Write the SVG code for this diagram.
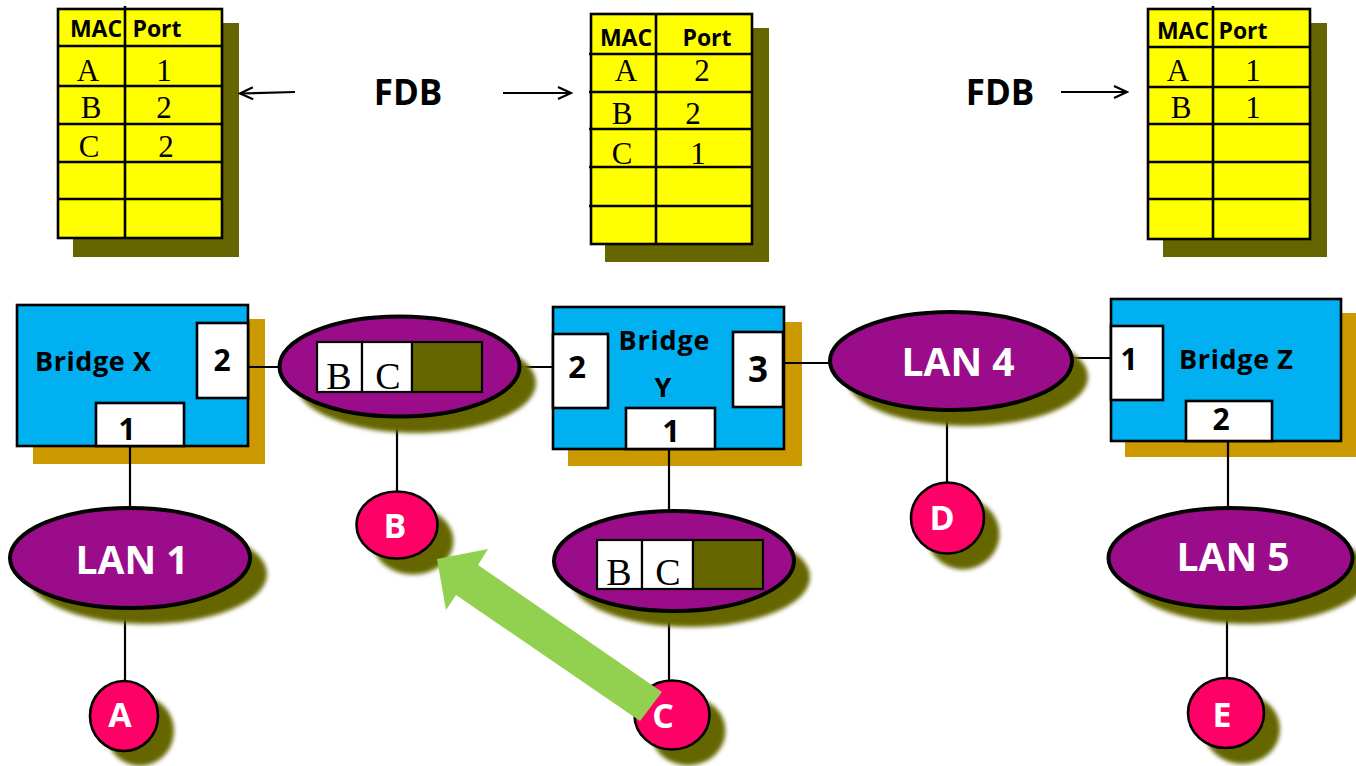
<svg xmlns="http://www.w3.org/2000/svg" width="1356" height="766" viewBox="0 0 1356 766">
<defs>
<filter id="blur" x="-20%" y="-20%" width="140%" height="140%"><feGaussianBlur stdDeviation="2"/></filter>
<marker id="arr" markerWidth="16" markerHeight="14" refX="14" refY="7" orient="auto" markerUnits="userSpaceOnUse">
<path d="M1,1 L14,7 L1,13" fill="none" stroke="#000" stroke-width="2.2"/>
</marker>
</defs>
<style>
.tbl{fill:#FFFF00;stroke:#000;stroke-width:2.6}
.tsh{fill:#666600}
.tl{stroke:#000;stroke-width:2.6;fill:none}
.hd{font-family:"Open Sans","DejaVu Sans",sans-serif;font-weight:bold;font-size:23px;fill:#000;text-anchor:middle}
.sf{font-family:"Liberation Serif","Times New Roman",serif;font-size:31px;fill:#000;text-anchor:middle}
.cl{font-family:"Liberation Serif","Times New Roman",serif;font-size:38px;fill:#000;text-anchor:middle}
.fdb{font-family:"Open Sans","DejaVu Sans",sans-serif;font-weight:bold;font-size:35px;fill:#000;text-anchor:middle}
.br{fill:#00B0F0;stroke:#000;stroke-width:2.6}
.bsh{fill:#CC9900}
.port{fill:#fff;stroke:#000;stroke-width:2.6}
.pn{font-family:"Open Sans","DejaVu Sans",sans-serif;font-weight:bold;font-size:30px;fill:#000;text-anchor:middle}
.bl{font-family:"Open Sans","DejaVu Sans",sans-serif;font-weight:bold;font-size:27px;fill:#000;text-anchor:middle}
.lan{fill:#9A0C8A;stroke:#000;stroke-width:4}
.sh{fill:#666600;filter:url(#blur)}
.lt{font-family:"Open Sans","DejaVu Sans",sans-serif;font-weight:bold;font-size:39px;fill:#fff;text-anchor:middle}
.host{fill:#FF0066;stroke:#000;stroke-width:2.6}
.ht{font-family:"Open Sans","DejaVu Sans",sans-serif;font-weight:bold;font-size:34px;fill:#fff;text-anchor:middle}
.cell{fill:#fff;stroke:#000;stroke-width:2.2}
.olv{fill:#666600;stroke:#000;stroke-width:2.2}
.cn{stroke:#000;stroke-width:2.2;fill:none}
</style>

<!-- FDB tables -->
<g id="fdb-x">
<rect class="tsh" x="73" y="23" width="166" height="234"/>
<rect class="tbl" x="58" y="9" width="164" height="229"/>
<path class="tl" d="M125,6 V238 M58,46 H222 M58,86 H222 M58,124 H222 M58,162 H222 M58,199 H222"/>
<text class="hd" x="96" y="37">MAC</text>
<text class="hd" x="157" y="37">Port</text>
<text class="sf" x="88" y="81">A</text><text class="sf" x="164" y="81">1</text>
<text class="sf" x="91" y="118">B</text><text class="sf" x="164" y="118">2</text>
<text class="sf" x="89" y="157">C</text><text class="sf" x="166" y="157">2</text>
</g>

<g id="fdb-y">
<rect class="tsh" x="605" y="28" width="164" height="234"/>
<rect class="tbl" x="591" y="14" width="161" height="230"/>
<path class="tl" d="M656,14 V244 M589,54 H752 M589,92 H752 M589,129 H752 M589,167 H752 M589,206 H752"/>
<text class="hd" x="626" y="46">MAC</text>
<text class="hd" x="707" y="46">Port</text>
<text class="sf" x="626" y="81">A</text><text class="sf" x="702" y="81">2</text>
<text class="sf" x="622" y="124">B</text><text class="sf" x="693" y="124">2</text>
<text class="sf" x="622" y="164">C</text><text class="sf" x="698" y="164">1</text>
</g>

<g id="fdb-z">
<rect class="tsh" x="1163" y="23" width="164" height="234"/>
<rect class="tbl" x="1148" y="9" width="162" height="230"/>
<path class="tl" d="M1213,6 V239 M1148,47 H1310 M1148,87 H1310 M1148,124 H1310 M1148,162 H1310 M1148,199 H1310"/>
<text class="hd" x="1183" y="39">MAC</text>
<text class="hd" x="1243" y="39">Port</text>
<text class="sf" x="1178" y="81">A</text><text class="sf" x="1253" y="81">1</text>
<text class="sf" x="1181" y="118">B</text><text class="sf" x="1253" y="118">1</text>
</g>

<g id="fdb-labels">
<text class="fdb" x="408" y="105">FDB</text>
<text class="fdb" x="1000" y="105">FDB</text>
</g>

<!-- Bridges -->
<g id="bridge-x">
<rect class="bsh" x="33" y="319" width="232" height="145"/>
<rect class="br" x="17" y="305" width="231" height="141"/>
<rect class="port" x="197" y="323" width="51" height="75"/>
<rect class="port" x="96" y="403" width="88" height="43"/>
<text class="bl" x="93" y="371" textLength="116" lengthAdjust="spacing">Bridge X</text>
<text class="pn" x="222" y="371">2</text>
<text class="pn" x="127" y="440">1</text>
</g>

<g id="bridge-y">
<rect class="bsh" x="568" y="322" width="234" height="144"/>
<rect class="br" x="553" y="307" width="231" height="142"/>
<rect class="port" x="553" y="334" width="55" height="74"/>
<rect class="port" x="733" y="332" width="50" height="75"/>
<rect class="port" x="626" y="408" width="89" height="41"/>
<text class="bl" x="664" y="350" textLength="91" lengthAdjust="spacing">Bridge</text>
<text class="bl" x="663" y="397">Y</text>
<text class="pn" x="577" y="378" style="font-size:31px">2</text>
<text class="pn" x="758" y="382" style="font-size:35px">3</text>
<text class="pn" x="671" y="442" style="font-size:31px">1</text>
</g>

<g id="bridge-z">
<rect class="bsh" x="1125" y="313" width="235" height="144"/>
<rect class="br" x="1111" y="299" width="230" height="142"/>
<rect class="port" x="1111" y="326" width="52" height="74"/>
<rect class="port" x="1186" y="401" width="86" height="40"/>
<text class="bl" x="1236" y="369" textLength="114" lengthAdjust="spacing">Bridge Z</text>
<text class="pn" x="1129" y="370">1</text>
<text class="pn" x="1221" y="430">2</text>
</g>

<!-- Connectors -->
<g id="connectors">
<line class="cn" x1="130" y1="446" x2="130" y2="508"/>
<line class="cn" x1="125" y1="608" x2="125" y2="681"/>
<line class="cn" x1="248" y1="367" x2="281" y2="367"/>
<line class="cn" x1="519" y1="367" x2="553" y2="367"/>
<line class="cn" x1="397" y1="417" x2="397" y2="492"/>
<line class="cn" x1="784" y1="363" x2="831" y2="363"/>
<line class="cn" x1="669" y1="449" x2="669" y2="511"/>
<line class="cn" x1="669" y1="611" x2="669" y2="680"/>
<line class="cn" x1="1072" y1="358" x2="1111" y2="358"/>
<line class="cn" x1="947" y1="410" x2="947" y2="483"/>
<line class="cn" x1="1228" y1="441" x2="1228" y2="509"/>
<line class="cn" x1="1227" y1="608" x2="1227" y2="678"/>
<line class="cn" x1="295" y1="92" x2="240" y2="93.5" marker-end="url(#arr)"/>
<line class="cn" x1="503" y1="93" x2="571" y2="93" marker-end="url(#arr)"/>
<line class="cn" x1="1061" y1="92" x2="1127" y2="92" marker-end="url(#arr)"/>
</g>

<!-- LANs -->
<g id="lan-1">
<ellipse class="sh" cx="147" cy="574" rx="120" ry="50"/>
<ellipse class="lan" cx="130" cy="558" rx="120" ry="50"/>
<text class="lt" x="132" y="574">LAN 1</text>
</g>

<g id="lan-2">
<ellipse class="sh" cx="416" cy="383" rx="120" ry="50"/>
<ellipse class="lan" cx="399.5" cy="366.5" rx="120" ry="50"/>
<rect class="cell" x="317" y="342" width="45" height="50"/>
<rect class="cell" x="362" y="342" width="50" height="50"/>
<rect class="olv" x="412" y="342" width="70" height="50"/>
<text class="cl" x="339" y="389">B</text>
<text class="cl" x="388" y="389">C</text>
</g>

<g id="lan-3">
<ellipse class="sh" cx="690" cy="577" rx="120" ry="50"/>
<ellipse class="lan" cx="674" cy="561" rx="120" ry="50"/>
<rect class="cell" x="597" y="540" width="45" height="49"/>
<rect class="cell" x="642" y="540" width="51" height="49"/>
<rect class="olv" x="693" y="540" width="70" height="49"/>
<text class="cl" x="619" y="585">B</text>
<text class="cl" x="668" y="585">C</text>
</g>

<g id="lan-4">
<ellipse class="sh" cx="967" cy="377" rx="121" ry="49"/>
<ellipse class="lan" cx="951" cy="361" rx="121" ry="49"/>
<text class="lt" x="958" y="376">LAN 4</text>
</g>

<g id="lan-5">
<ellipse class="sh" cx="1247" cy="574" rx="122" ry="50"/>
<ellipse class="lan" cx="1230.5" cy="558" rx="122" ry="50"/>
<text class="lt" x="1233" y="571">LAN 5</text>
</g>

<!-- Hosts -->
<g id="host-a">
<ellipse class="sh" cx="140" cy="731" rx="34" ry="35"/>
<ellipse class="host" cx="124" cy="716" rx="34" ry="35"/>
<text class="ht" x="120" y="727">A</text>
</g>

<g id="host-b">
<ellipse class="sh" cx="413" cy="541" rx="40.5" ry="33.5"/>
<ellipse class="host" cx="397" cy="525" rx="40.5" ry="33.5"/>
<text class="ht" x="395" y="538">B</text>
</g>

<g id="host-c">
<ellipse class="sh" cx="688" cy="731" rx="37.5" ry="34.5"/>
<ellipse class="host" cx="672" cy="715" rx="37.5" ry="34.5"/>
</g>

<g id="host-d">
<ellipse class="sh" cx="963" cy="534" rx="36.5" ry="35.5"/>
<ellipse class="host" cx="947.5" cy="518" rx="36.5" ry="35.5"/>
<text class="ht" x="942" y="530">D</text>
</g>

<g id="host-e">
<ellipse class="sh" cx="1242" cy="729" rx="38" ry="35"/>
<ellipse class="host" cx="1226" cy="713" rx="38" ry="35"/>
<text class="ht" x="1222" y="727">E</text>
</g>

<!-- Green flow arrow -->
<g id="flow-arrow">
<polygon points="437,559 488,549 478,565 662,692 640,721 456,595 446,610" fill="#92D050"/>
</g>

<g id="host-c-label">
<text class="ht" x="663" y="728">C</text>
</g>
</svg>
